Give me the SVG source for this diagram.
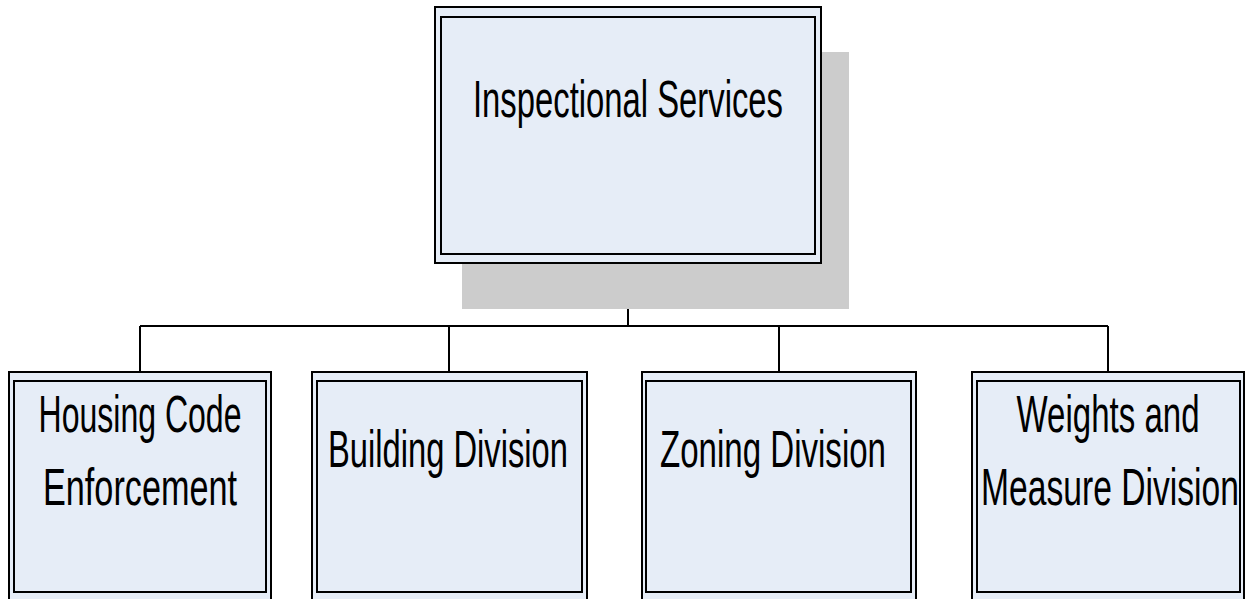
<svg xmlns="http://www.w3.org/2000/svg" width="1245" height="599" viewBox="0 0 1245 599">
<style>
.box{fill:#E6EDF7;stroke:#000;stroke-width:2}
.inner{fill:none;stroke:#000;stroke-width:2}
.shadow{fill:#CCCCCC}
.lbl{font-family:"Liberation Sans",Arial,sans-serif;font-size:52px;fill:#000;text-anchor:middle}
.conn{fill:none;stroke:#000;stroke-width:2}
</style>
<rect width="1245" height="599" fill="#fff"/>
<g id="connectors">
<path class="conn" d="M628 263V326M140 326H1108M140 326V372M449 326V372M779 326V372M1108 326V372"/>
</g>
<g id="inspectional-services">
<rect class="shadow" x="462" y="52" width="387" height="257"/>
<rect class="box" x="435" y="7" width="386" height="256"/>
<rect class="inner" x="441" y="17" width="374" height="237"/>
<text class="lbl" x="628" y="117" textLength="310" lengthAdjust="spacingAndGlyphs">Inspectional Services</text>
</g>
<g id="housing-code-enforcement">
<rect class="box" x="9" y="372" width="262" height="232"/>
<rect class="inner" x="14" y="381" width="252" height="211"/>
<text class="lbl" x="140" y="432" textLength="203" lengthAdjust="spacingAndGlyphs">Housing Code</text>
<text class="lbl" x="140" y="505" textLength="194" lengthAdjust="spacingAndGlyphs">Enforcement</text>
</g>
<g id="building-division">
<rect class="box" x="312" y="372" width="275" height="232"/>
<rect class="inner" x="317" y="381" width="265" height="211"/>
<text class="lbl" x="448" y="467" textLength="240" lengthAdjust="spacingAndGlyphs">Building Division</text>
</g>
<g id="zoning-division">
<rect class="box" x="642" y="372" width="274" height="232"/>
<rect class="inner" x="646" y="381" width="265" height="211"/>
<text class="lbl" x="773" y="467" textLength="226" lengthAdjust="spacingAndGlyphs">Zoning Division</text>
</g>
<g id="weights-and-measure-division">
<rect class="box" x="972" y="372" width="272" height="232"/>
<rect class="inner" x="977" y="381" width="263" height="211"/>
<text class="lbl" x="1108" y="432" textLength="183" lengthAdjust="spacingAndGlyphs">Weights and</text>
<text class="lbl" x="1110" y="505" textLength="258" lengthAdjust="spacingAndGlyphs">Measure Division</text>
</g>
</svg>
